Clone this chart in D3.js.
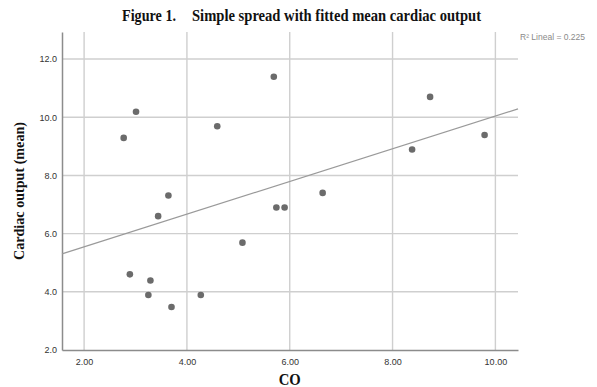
<!DOCTYPE html>
<html>
<head>
<meta charset="utf-8">
<script src="https://cdn.jsdelivr.net/npm/d3@7"></script>
<style>
  body { margin: 0; background: #fff; }
  svg { display: block; }
</style>
</head>
<body>
<div class="scatter-container"></div>
<script>
/* data */
const coValues = [2.77, 3.01, 5.69, 4.59, 3.64, 3.44, 5.08, 5.74, 5.90, 6.64, 2.89, 3.29, 3.25, 3.70, 4.27, 8.38, 8.73, 9.79];
const meanValues = [9.29, 10.19, 11.39, 9.69, 7.31, 6.60, 5.69, 6.90, 6.90, 7.40, 4.60, 4.39, 3.89, 3.48, 3.89, 8.89, 10.70, 9.39];
const xTicks = [2, 4, 6, 8, 10];
const yTicks = [2, 4, 6, 8, 10, 12];
const xDomain = [1.57, 10.44];
const yDomain = [2, 12.93];
const rSquaredLabel = "R\u00b2 Lineal = 0.225";

const svg_width = 597;
const svg_height = 387;
const chart_margin = { top: 32, right: 79, bottom: 37, left: 62 };
const chart_width = svg_width - (chart_margin.left + chart_margin.right);
const chart_height = svg_height - (chart_margin.top + chart_margin.bottom);

const svg = d3.select(".scatter-container").append("svg")
    .attr("width", svg_width)
    .attr("height", svg_height);

const g = svg.append("g")
    .attr("transform", `translate(${chart_margin.left},${chart_margin.top})`);

/* scales */
const xScale = d3.scaleLinear().domain(xDomain).range([0, chart_width]);
const yScale = d3.scaleLinear().domain(yDomain).range([chart_height, 0]);

/* grid */
const gridColor = "#cfcfcf";
g.append("g").attr("class", "x grid")
    .selectAll("line").data(xTicks).join("line")
    .attr("x1", d => xScale(d)).attr("x2", d => xScale(d))
    .attr("y1", 0).attr("y2", chart_height)
    .attr("stroke", gridColor).attr("stroke-width", 1.4);
g.append("g").attr("class", "y grid")
    .selectAll("line").data(yTicks.filter(d => d > yDomain[0])).join("line")
    .attr("x1", 0).attr("x2", chart_width)
    .attr("y1", d => yScale(d)).attr("y2", d => yScale(d))
    .attr("stroke", gridColor).attr("stroke-width", 1.4);

/* axes */
const xAxis = d3.axisBottom(xScale).tickValues(xTicks)
    .tickFormat(d3.format(".2f")).tickSize(0).tickPadding(9);
const yAxis = d3.axisLeft(yScale).tickValues(yTicks)
    .tickFormat(d3.format(".1f")).tickSize(0).tickPadding(5);

const xAxisDraw = g.append("g").attr("class", "x axis")
    .attr("transform", `translate(0,${chart_height})`)
    .call(xAxis);
const yAxisDraw = g.append("g").attr("class", "y axis").call(yAxis);

[xAxisDraw, yAxisDraw].forEach(a => {
    a.select(".domain").attr("stroke", "#8c8c8c").attr("stroke-width", 1.5);
    a.selectAll("text")
        .attr("font-family", "'Liberation Sans', Arial, sans-serif")
        .attr("font-size", "9px")
        .attr("fill", "#333");
});

/* fitted line (least squares) */
const meanX = d3.mean(coValues);
const meanY = d3.mean(meanValues);
const slope = d3.sum(coValues, (x, i) => (x - meanX) * (meanValues[i] - meanY)) /
              d3.sum(coValues, x => (x - meanX) * (x - meanX));
const intercept = meanY - slope * meanX;
const fitLine = d3.line()
    .x(d => xScale(d))
    .y(d => yScale(intercept + slope * d));
g.append("path")
    .datum(xDomain)
    .attr("class", "fit-line")
    .attr("d", fitLine)
    .attr("fill", "none")
    .attr("stroke", "#9a9a9a")
    .attr("stroke-width", 1.2);

/* points */
g.append("g").attr("class", "dot")
    .selectAll("circle")
    .data(coValues.map((x, i) => [x, meanValues[i]]))
    .join("circle")
    .attr("cx", d => xScale(d[0]))
    .attr("cy", d => yScale(d[1]))
    .attr("r", 3.3)
    .attr("fill", "#6b6b6b");

/* texts */
const serif = "'Liberation Serif', 'Times New Roman', serif";
svg.append("text")
    .attr("x", 122).attr("y", 21)
    .attr("font-family", serif).attr("font-weight", "bold").attr("font-size", "16px")
    .attr("textLength", 54).attr("lengthAdjust", "spacingAndGlyphs")
    .attr("fill", "#111")
    .text("Figure 1.");
svg.append("text")
    .attr("x", 192).attr("y", 21)
    .attr("font-family", serif).attr("font-weight", "bold").attr("font-size", "16px")
    .attr("textLength", 289).attr("lengthAdjust", "spacingAndGlyphs")
    .attr("fill", "#111")
    .text("Simple spread with fitted mean cardiac output");

svg.append("text")
    .attr("x", 520).attr("y", 40)
    .attr("font-family", "'Liberation Sans', Arial, sans-serif")
    .attr("font-size", "8.5px")
    .attr("fill", "#8a8a8a")
    .text(rSquaredLabel);

svg.append("text")
    .attr("transform", `translate(24,191) rotate(-90)`)
    .attr("text-anchor", "middle")
    .attr("font-family", serif).attr("font-weight", "bold").attr("font-size", "15px")
    .attr("textLength", 138).attr("lengthAdjust", "spacingAndGlyphs")
    .attr("fill", "#111")
    .text("Cardiac output (mean)");

svg.append("text")
    .attr("x", chart_margin.left + xScale(6)).attr("y", 385)
    .attr("text-anchor", "middle")
    .attr("font-family", serif).attr("font-weight", "bold").attr("font-size", "16px")
    .attr("textLength", 22).attr("lengthAdjust", "spacingAndGlyphs")
    .attr("fill", "#111")
    .text("CO");
</script>
</body>
</html>
